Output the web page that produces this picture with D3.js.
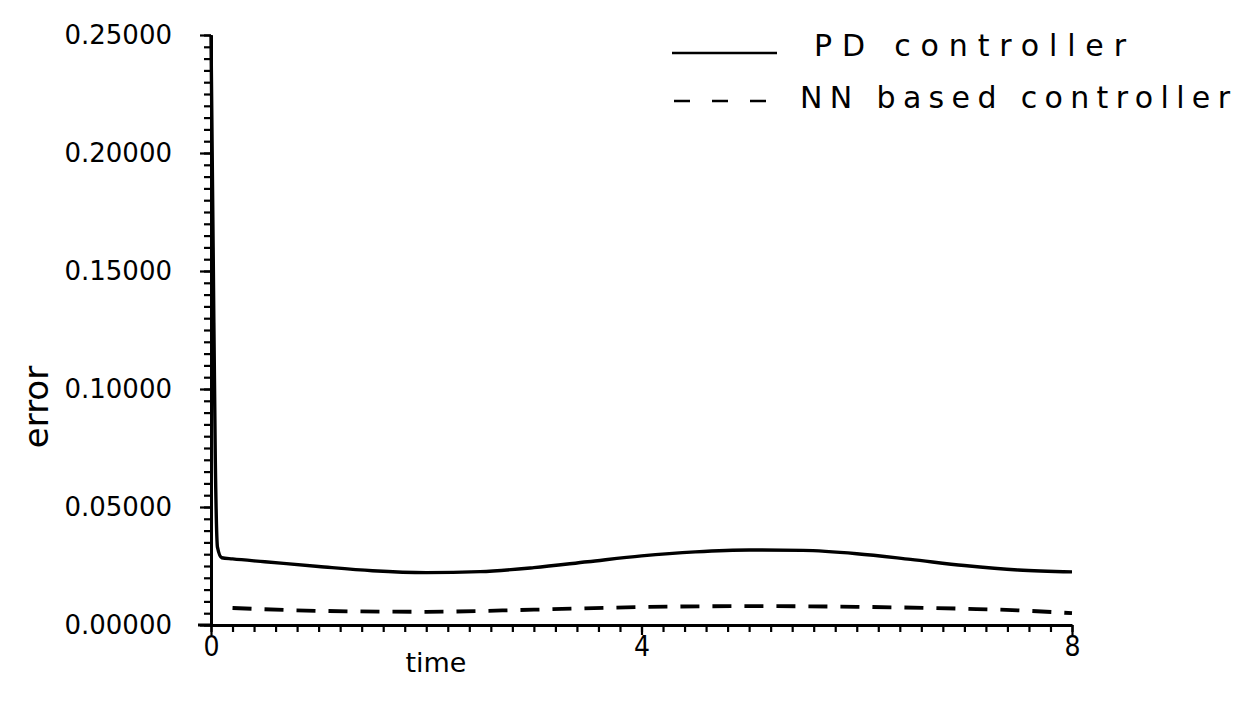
<!DOCTYPE html>
<html><head><meta charset="utf-8">
<script src="https://cdn.jsdelivr.net/npm/d3@7"></script>
<style>
html,body{margin:0;padding:0;background:#fff;}
svg{display:block;}
</style></head>
<body>
<svg id="chart" width="1249" height="701"></svg>
<script>
// ---- data ----
const timeTicks = [0, 4, 8];
const errorTicks = [0, 0.05, 0.10, 0.15, 0.20, 0.25];
const seriesNames = ["PD controller", "NN based controller"];
const pdTime  = [0, 0.02, 0.04, 0.06, 0.1, 0.2, 0.5, 1, 1.5, 2, 2.5, 3, 3.5, 4, 4.5, 5, 5.5, 6, 6.5, 7, 7.5, 8];
const pdError = [0.25, 0.16, 0.07, 0.033, 0.0285, 0.028, 0.0268, 0.0248, 0.0230, 0.0222, 0.0226, 0.0243, 0.0268, 0.0293, 0.0310, 0.0318, 0.0316, 0.0302, 0.0278, 0.0252, 0.0233, 0.0225];
const nnTime  = [0.2, 1, 2, 3, 4, 5, 6, 7, 7.5, 8];
const nnError = [0.0072, 0.0060, 0.0056, 0.0065, 0.0076, 0.0080, 0.0077, 0.0069, 0.0062, 0.0050];

// ---- layout ----
const svg = d3.select("#chart");
svg.append("rect").attr("width",1249).attr("height",701).attr("fill","#fff");
const x = d3.scaleLinear().domain([0, 8]).range([211, 1072]);
const y = d3.scaleLinear().domain([0, 0.25]).range([625, 35]);
const ink = "#000";

// y axis minor ticks
const yMinor = d3.range(0, 51).map(i => i * 0.005);
svg.append("g").attr("transform", `translate(${x(0)},0)`)
  .call(d3.axisLeft(y).tickValues(yMinor).tickSize(7).tickSizeOuter(0).tickFormat(""))
  .call(g => { g.select(".domain").attr("stroke", ink).attr("stroke-width", 3);
               g.selectAll(".tick line").attr("stroke", ink).attr("stroke-width", 2.2); });
// y axis major ticks + labels
svg.append("g").attr("transform", `translate(${x(0)},0)`)
  .call(d3.axisLeft(y).tickValues(errorTicks).tickSize(11).tickPadding(28).tickSizeOuter(0).tickFormat(d3.format(".5f")))
  .call(g => { g.select(".domain").remove();
               g.selectAll(".tick line").attr("stroke", ink).attr("stroke-width", 2.2);
               g.selectAll(".tick text").attr("fill", ink).attr("font-family", "DejaVu Sans, sans-serif").attr("font-size", 26); });

// x axis minor ticks
const xMinor = d3.range(0, 41).map(i => i * 0.2);
svg.append("g").attr("transform", `translate(0,${y(0)})`)
  .call(d3.axisBottom(x).tickValues(xMinor).tickSize(7).tickSizeOuter(0).tickFormat(""))
  .call(g => { g.select(".domain").attr("stroke", ink).attr("stroke-width", 3);
               g.selectAll(".tick line").attr("stroke", ink).attr("stroke-width", 2.2); });
// x axis major ticks + labels
svg.append("g").attr("transform", `translate(0,${y(0)})`)
  .call(d3.axisBottom(x).tickValues(timeTicks).tickSize(10).tickPadding(1).tickSizeOuter(0).tickFormat(d3.format("d")))
  .call(g => { g.select(".domain").remove();
               g.selectAll(".tick line").attr("stroke", ink).attr("stroke-width", 2.2);
               g.selectAll(".tick text").attr("fill", ink).attr("font-family", "Liberation Sans Narrow, DejaVu Sans Condensed, DejaVu Sans, sans-serif").attr("font-size", 28); });
// small extension of x axis left of origin
svg.append("line").attr("x1", x(0) - 13).attr("x2", x(0)).attr("y1", y(0)).attr("y2", y(0))
  .attr("stroke", ink).attr("stroke-width", 3);

// axis titles
svg.append("text").attr("transform", `translate(48,407) rotate(-90)`)
  .attr("text-anchor", "middle").attr("font-family", "DejaVu Sans, sans-serif")
  .attr("font-size", 34).attr("fill", ink).text("error");
svg.append("text").attr("x", 436).attr("y", 672)
  .attr("text-anchor", "middle").attr("font-family", "DejaVu Sans, sans-serif")
  .attr("font-size", 27).attr("fill", ink).text("time");

// lines
const line = d3.line().x(d => x(d[0])).y(d => y(d[1])).curve(d3.curveMonotoneX);
svg.append("path").datum(d3.zip(pdTime, pdError)).attr("d", line)
  .attr("fill", "none").attr("stroke", ink).attr("stroke-width", 3.4);
svg.append("path").datum(d3.zip(nnTime, nnError)).attr("d", line)
  .attr("fill", "none").attr("stroke", ink).attr("stroke-width", 3.8).attr("stroke-dasharray", "19,13");

// legend
const legend = svg.append("g");
legend.append("line").attr("x1", 672).attr("x2", 777).attr("y1", 53).attr("y2", 53)
  .attr("stroke", ink).attr("stroke-width", 2.5);
legend.append("text").attr("x", 814).attr("y", 56).attr("font-family", "DejaVu Sans, sans-serif")
  .attr("font-size", 30).attr("fill", ink).attr("textLength", 312).attr("lengthAdjust", "spacing").text(seriesNames[0]);
legend.append("line").attr("x1", 674).attr("x2", 770).attr("y1", 101).attr("y2", 101)
  .attr("stroke", ink).attr("stroke-width", 2.5).attr("stroke-dasharray", "16,22");
legend.append("text").attr("x", 800).attr("y", 108).attr("font-family", "DejaVu Sans, sans-serif")
  .attr("font-size", 30).attr("fill", ink).attr("textLength", 430).attr("lengthAdjust", "spacing").text(seriesNames[1]);
</script>
</body></html>
